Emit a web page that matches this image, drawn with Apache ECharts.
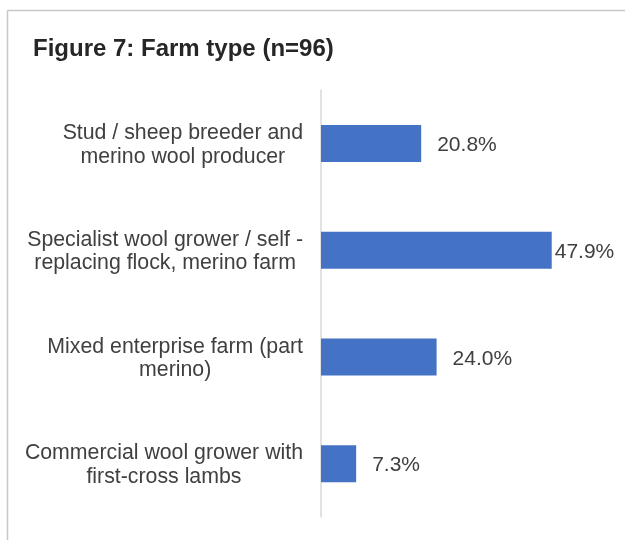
<!DOCTYPE html>
<html><head><meta charset="utf-8">
<script src="https://cdn.jsdelivr.net/npm/echarts@6/dist/echarts.min.js"></script>
<style>html,body{margin:0;padding:0;background:#fff}#c{width:625px;height:540px}</style>
</head><body><div id="c"></div>
<script>
var categories = [
  "Stud / sheep breeder and\nmerino wool producer",
  "Specialist wool grower / self -\nreplacing flock, merino farm",
  "Mixed enterprise farm (part\nmerino)",
  "Commercial wool grower with\nfirst-cross lambs"
];
var values = [20.8, 47.9, 24.0, 7.3];
var labelGaps = [16, 3, 16, 16];

var chart = echarts.init(document.getElementById('c'), null, {renderer: 'canvas'});
chart.setOption({
  animation: false,
  backgroundColor: '#fff',
  title: {
    text: 'Figure 7: Farm type (n=96)',
    left: 28, top: 32,
    textStyle: {fontFamily: 'Liberation Sans, Arial', fontSize: 24, fontWeight: 'bold', color: '#262626'}
  },
  graphic: [
    {type: 'line', shape: {x1: 7.5, y1: 10.5, x2: 625, y2: 10.5}, style: {stroke: '#c8c8c8', lineWidth: 1.5}},
    {type: 'line', shape: {x1: 7.5, y1: 10.5, x2: 7.5, y2: 540}, style: {stroke: '#c8c8c8', lineWidth: 1.5}}
  ],
  grid: {left: 321, right: 15, top: 90, bottom: 23, containLabel: false},
  xAxis: {type: 'value', min: 0, max: 60, show: false},
  yAxis: {
    type: 'category', inverse: true, data: categories,
    axisLine: {show: true, lineStyle: {color: '#d9d9d9', width: 1.5}},
    axisTick: {show: false},
    axisLabel: {
      margin: 18,
      formatter: function (v) {
        return v.split('\n').map(function (l) { return '{c|' + l + '}'; }).join('\n');
      },
      rich: {c: {align: 'center', fontFamily: 'Liberation Sans, Arial', fontSize: 21.3, lineHeight: 23.5, color: '#404040', padding: [3, 0, 0, 0]}}
    }
  },
  series: [{
    type: 'bar',
    barWidth: 37,
    data: values.map(function (v, i) {
      return {value: v, label: {distance: labelGaps[i]}};
    }),
    itemStyle: {color: '#4472C4'},
    label: {
      show: true, position: 'right', offset: [0, 2],
      formatter: function (p) { return p.value.toFixed(1) + '%'; },
      fontFamily: 'Liberation Sans, Arial', fontSize: 21, color: '#404040'
    }
  }]
});
</script></body></html>
